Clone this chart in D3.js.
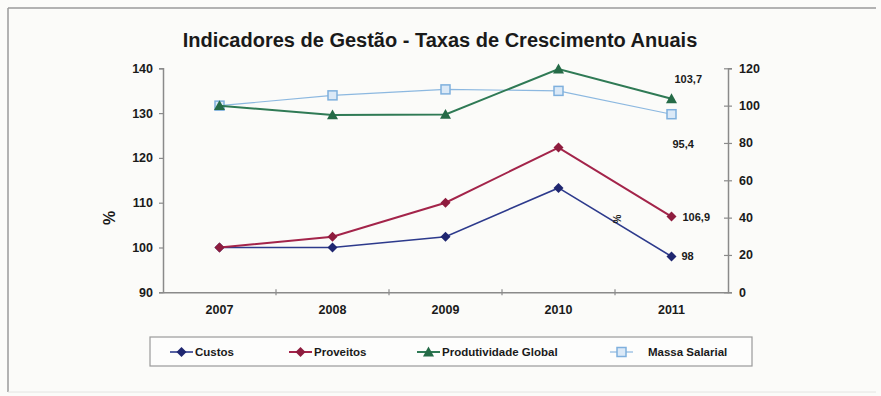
<!DOCTYPE html>
<html>
<head>
<meta charset="utf-8">
<script src="https://cdn.jsdelivr.net/npm/d3@7"></script>
<style>
  html, body { margin: 0; padding: 0; background: #fbfbf9; }
  svg { display: block; font-family: "Liberation Sans", Arial, sans-serif; }
</style>
</head>
<body>
<svg id="chart" width="881" height="396"></svg>
<script>
// Years on the category axis
const years = ["2007", "2008", "2009", "2010", "2011"];

// Left-axis series (%)
const custos = [100, 100.0, 102.4, 113.3, 98];
const proveitos = [100, 102.4, 110.0, 122.3, 106.9];

// Right-axis series (%)
const produtividade = [100, 95.0, 95.3, 119.6, 103.7];
const massaSalarial = [100, 105.5, 108.7, 107.9, 95.4];

// Axis ticks
const leftTicks = [90, 100, 110, 120, 130, 140];
const rightTicks = [0, 20, 40, 60, 80, 100, 120];

const series = [
  { name: "Custos", values: custos, axis: "left", color: "#2d3a8c", marker: "diamond", width: 1.6, label: "98" },
  { name: "Proveitos", values: proveitos, axis: "left", color: "#a3244a", marker: "diamond", width: 2, label: "106,9" },
  { name: "Produtividade Global", values: produtividade, axis: "right", color: "#2f7a55", marker: "triangle", width: 2, label: "103,7" },
  { name: "Massa Salarial", values: massaSalarial, axis: "right", color: "#8cb8e0", marker: "square", width: 1.2, label: "95,4" }
];

const svg = d3.select("#chart");

// Outer frame
svg.append("line").attr("x1", 8).attr("y1", 8).attr("x2", 876).attr("y2", 8)
  .attr("stroke", "#9a9a9a").attr("stroke-width", 1.5);
svg.append("line").attr("x1", 8).attr("y1", 8).attr("x2", 8).attr("y2", 392)
  .attr("stroke", "#9a9a9a").attr("stroke-width", 1.5);
svg.append("line").attr("x1", 8).attr("y1", 392).attr("x2", 876).attr("y2", 392)
  .attr("stroke", "#e4e4e2").attr("stroke-width", 1);

// Title
svg.append("text")
  .attr("x", 440).attr("y", 47)
  .attr("text-anchor", "middle")
  .attr("font-size", 20).attr("font-weight", "bold")
  .attr("fill", "#1a1a1a")
  .text("Indicadores de Gestão - Taxas de Crescimento Anuais");

const plot = { left: 163, right: 728, top: 68.3, bottom: 292.3 };

const x = d3.scaleBand().domain(years).range([plot.left, plot.right]);
const yL = d3.scaleLinear().domain([90, 140]).range([plot.bottom, plot.top]);
const yR = d3.scaleLinear().domain([0, 120]).range([plot.bottom, plot.top]);
const cx = d => x(d) + x.bandwidth() / 2;

const axisColor = "#8a8a8a";

// Left axis
const gL = svg.append("g").attr("transform", `translate(${plot.left},0)`)
  .call(d3.axisLeft(yL).tickValues(leftTicks).tickSize(4).tickPadding(6));
// Right axis
const gR = svg.append("g").attr("transform", `translate(${plot.right},0)`)
  .call(d3.axisRight(yR).tickValues(rightTicks).tickSize(4).tickPadding(7));
// Category axis with ticks at band boundaries
const gX = svg.append("g").attr("transform", `translate(0,${plot.bottom})`)
  .call(d3.axisBottom(x).tickSize(0).tickPadding(13));

[gL, gR, gX].forEach(g => {
  g.select(".domain").attr("stroke", axisColor).attr("stroke-width", 1.5);
  g.selectAll(".tick line").attr("stroke", axisColor).attr("stroke-width", 1.2);
  g.selectAll("text").attr("font-size", 12.5).attr("font-weight", "bold")
    .attr("fill", "#1a1a1a").attr("font-family", "Liberation Sans, Arial, sans-serif");
});
gR.selectAll(".tick line").attr("x1", -4);

// Category boundary ticks
gX.selectAll(".boundary").data(years.slice(1)).join("line")
  .attr("x1", d => x(d)).attr("x2", d => x(d))
  .attr("y1", -3).attr("y2", 3)
  .attr("stroke", axisColor).attr("stroke-width", 1.2);

// Left axis title
svg.append("text")
  .attr("transform", "translate(115,218) rotate(-90)")
  .attr("text-anchor", "middle")
  .attr("font-size", 16).attr("font-weight", "bold").attr("fill", "#1a1a1a")
  .text("%");

// Series lines and markers
const lineFor = s => d3.line()
  .x((d, i) => cx(years[i]))
  .y(d => (s.axis === "left" ? yL : yR)(d));

const order = [3, 2, 0, 1];
order.forEach(k => {
  const s = series[k];
  const ys = s.axis === "left" ? yL : yR;
  svg.append("path")
    .datum(s.values)
    .attr("d", lineFor(s))
    .attr("fill", "none")
    .attr("stroke", s.color)
    .attr("stroke-width", s.width);

  const g = svg.append("g");
  s.values.forEach((v, i) => drawMarker(g, s, cx(years[i]), ys(v)));
});

function drawMarker(g, s, px, py) {
  if (s.marker === "diamond") {
    const r = 5;
    g.append("path")
      .attr("d", `M${px},${py - r}L${px + r},${py}L${px},${py + r}L${px - r},${py}Z`)
      .attr("fill", s.name === "Custos" ? "#1f2670" : "#8e1c3e");
  } else if (s.marker === "triangle") {
    const r = 5.5;
    g.append("path")
      .attr("d", `M${px},${py - r}L${px + r},${py + r * 0.8}L${px - r},${py + r * 0.8}Z`)
      .attr("fill", "#256b47");
  } else {
    g.append("rect")
      .attr("x", px - 4.5).attr("y", py - 4.5)
      .attr("width", 9).attr("height", 9)
      .attr("fill", "#dbe9f7")
      .attr("stroke", "#7fb0dd").attr("stroke-width", 1.5);
  }
}

// Value labels on the final year
const last = years.length - 1;
const labelOffsets = {
  "Custos": [10, 4],
  "Proveitos": [11, 4],
  "Produtividade Global": [3, -16],
  "Massa Salarial": [1, 34]
};
series.forEach(s => {
  const ys = s.axis === "left" ? yL : yR;
  const [dx, dy] = labelOffsets[s.name];
  svg.append("text")
    .attr("x", cx(years[last]) + dx)
    .attr("y", ys(s.values[last]) + dy)
    .attr("font-size", 11).attr("font-weight", "bold").attr("fill", "#1a1a1a")
    .text(s.label);
});

// Right axis title
svg.append("text")
  .attr("transform", "translate(621,219) rotate(-90)")
  .attr("text-anchor", "middle")
  .attr("font-size", 10).attr("font-weight", "bold").attr("fill", "#1a1a1a")
  .text("%");

// Legend
const legend = svg.append("g");
legend.append("rect")
  .attr("x", 150).attr("y", 337).attr("width", 602).attr("height", 29)
  .attr("fill", "#fdfdfc").attr("stroke", "#9a9a9a").attr("stroke-width", 1.2);

const legendX = [170, 289, 417, 610];
series.forEach((s, i) => {
  const lx = legendX[i];
  const ly = 352;
  const g = legend.append("g");
  g.append("line").attr("x1", lx).attr("x2", lx + 23).attr("y1", ly).attr("y2", ly)
    .attr("stroke", s.color).attr("stroke-width", s.width);
  drawMarker(g, s, lx + 11.5, ly);
  g.append("text")
    .attr("x", i === 3 ? lx + 38 : lx + 25).attr("y", ly + 4)
    .attr("font-size", 11.5).attr("font-weight", "bold")
    .attr("fill", "#1a1a1a")
    .text(s.name);
});
</script>
</body>
</html>
